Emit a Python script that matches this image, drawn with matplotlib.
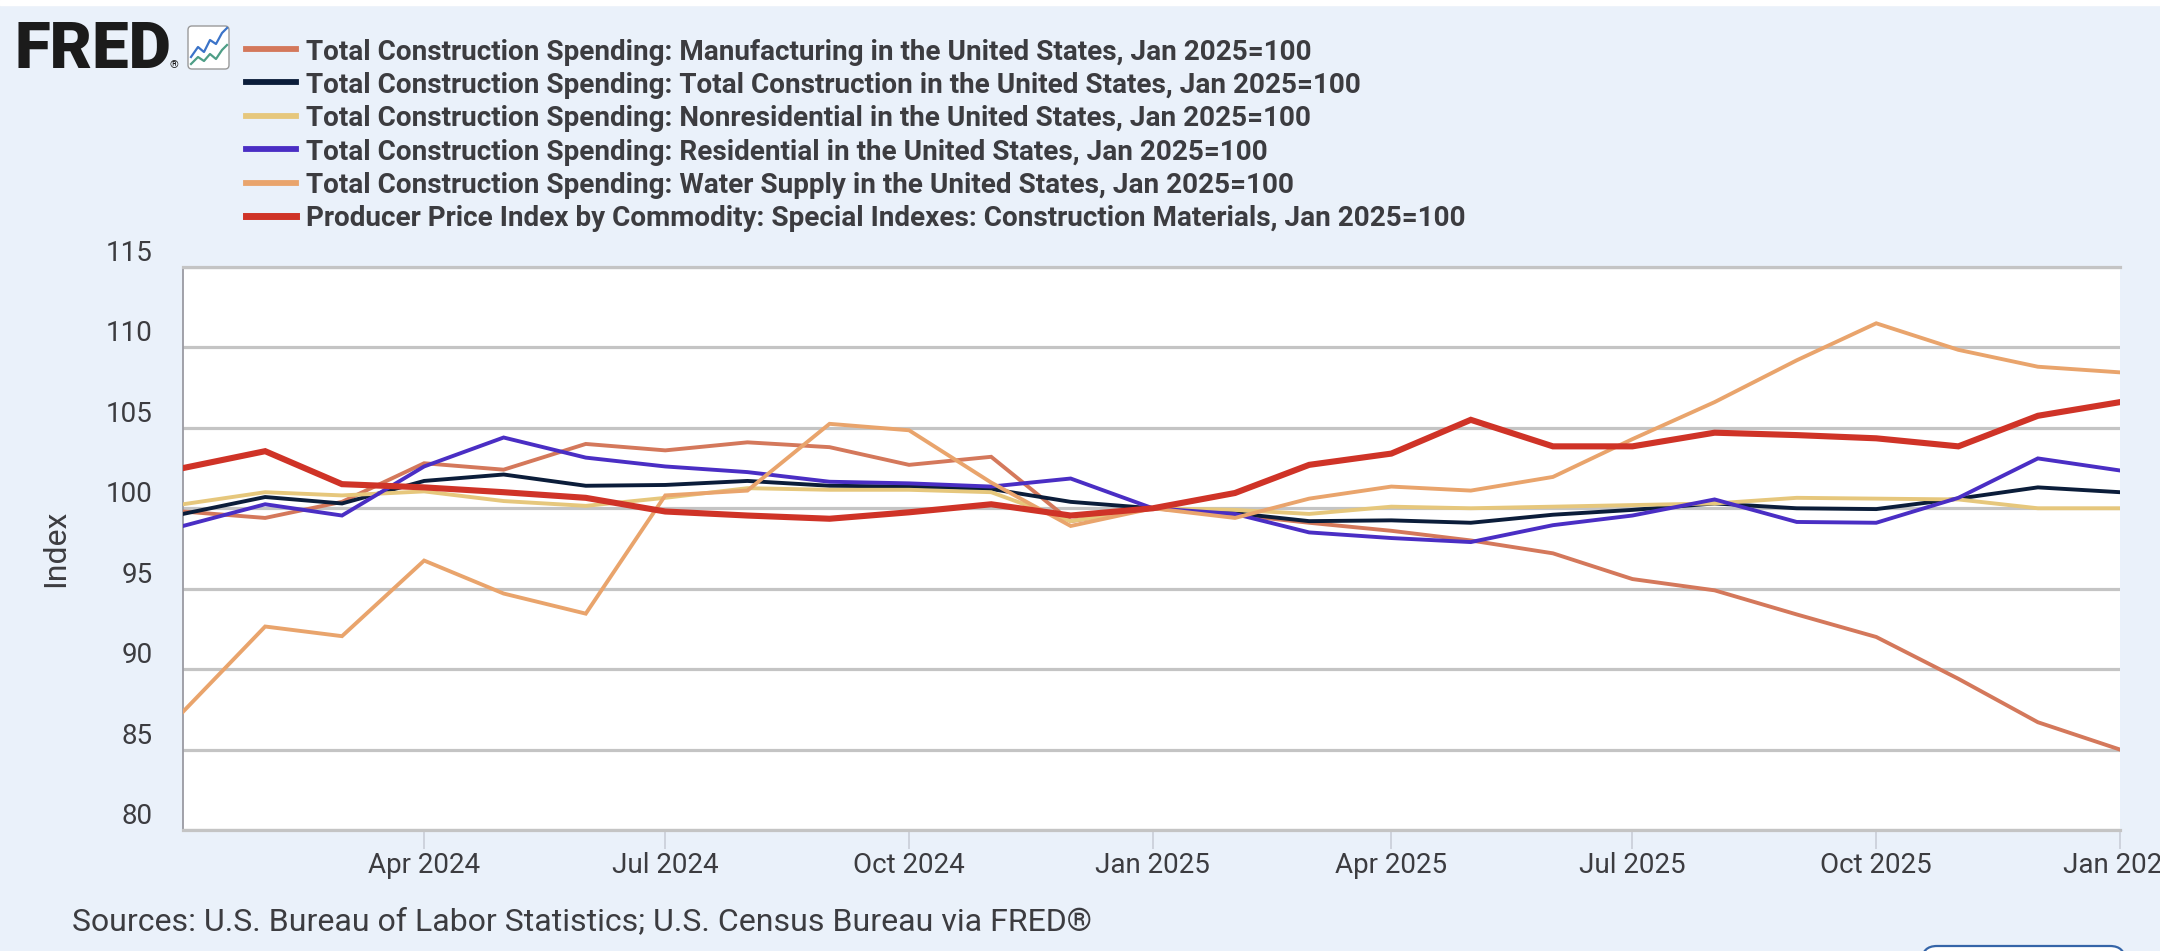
import matplotlib
matplotlib.use("Agg")
import matplotlib.pyplot as plt
import matplotlib.dates as mdates
from matplotlib.lines import Line2D
from matplotlib.patches import FancyBboxPatch, Rectangle
import pandas as pd

plt.rcParams["font.family"] = ["Roboto", "DejaVu Sans"]

# ---- data (Jan 2025 = 100) ----
months = pd.date_range("2024-01-01", "2026-01-01", freq="MS")

manufacturing = [99.8, 99.4, 100.4, 102.8, 102.4, 104.0, 103.6, 104.1, 103.8, 102.7, 103.2, 99.2,
                 100.0, 99.6, 99.1, 98.6, 98.0, 97.2, 95.6, 94.9, 93.4, 92.0, 89.4, 86.7, 85.0]
total = [99.65, 100.7, 100.3, 101.7, 102.1, 101.4, 101.45, 101.7, 101.4, 101.35, 101.2, 100.4,
         100.0, 99.7, 99.2, 99.25, 99.1, 99.6, 99.9, 100.3, 100.0, 99.95, 100.6, 101.3, 101.0]
nonresidential = [100.25, 101.0, 100.8, 101.05, 100.45, 100.15, 100.65, 101.25, 101.15, 101.15, 101.0, 99.2,
                  100.0, 99.9, 99.65, 100.1, 100.0, 100.1, 100.2, 100.3, 100.65, 100.6, 100.55, 100.0, 100.0]
residential = [98.9, 100.25, 99.55, 102.6, 104.4, 103.15, 102.6, 102.25, 101.65, 101.55, 101.35, 101.85,
               100.0, 99.65, 98.5, 98.15, 97.9, 98.95, 99.55, 100.55, 99.15, 99.1, 100.65, 103.1, 102.35]
water_supply = [87.35, 92.65, 92.05, 96.75, 94.7, 93.45, 100.8, 101.1, 105.25, 104.85, 101.6, 98.9,
                100.0, 99.4, 100.6, 101.35, 101.1, 101.95, 104.3, 106.6, 109.2, 111.5, 109.85, 108.8, 108.45]
ppi_materials = [102.5, 103.55, 101.5, 101.3, 101.0, 100.65, 99.8, 99.55, 99.35, 99.75, 100.25, 99.55,
                 100.0, 100.95, 102.7, 103.4, 105.5, 103.85, 103.85, 104.7, 104.55, 104.35, 103.85, 105.75, 106.6]

labels = [
    "Total Construction Spending: Manufacturing in the United States, Jan 2025=100",
    "Total Construction Spending: Total Construction in the United States, Jan 2025=100",
    "Total Construction Spending: Nonresidential in the United States, Jan 2025=100",
    "Total Construction Spending: Residential in the United States, Jan 2025=100",
    "Total Construction Spending: Water Supply in the United States, Jan 2025=100",
    "Producer Price Index by Commodity: Special Indexes: Construction Materials, Jan 2025=100",
]
series = [manufacturing, total, nonresidential, residential, water_supply, ppi_materials]
colors = ["#d4785b", "#0b1d3a", "#e6c77c", "#4a2ec4", "#e9a46c", "#cf3327"]
widths = [2.8, 2.8, 2.8, 2.8, 2.8, 4.4]

y_ticks = [80, 85, 90, 95, 100, 105, 110, 115]
x_ticks = pd.date_range("2024-04-01", "2026-01-01", freq="3MS")

# ---- figure layout (pixel based) ----
W, H = 2160, 951
BG = "#eaf1fa"
GRID = "#c4c4c4"
TXT = "#3c3c40"

fig = plt.figure(figsize=(W / 100, H / 100), dpi=100, facecolor=BG)
ax = fig.add_axes([183 / W, 1 - 830 / H, 1937 / W, (830 - 267) / H])
ax.set_facecolor("white")

for vals, c, lw in zip(series, colors, widths):
    ax.plot(months, vals, color=c, lw=lw, solid_joinstyle="miter", zorder=3)

ax.set_xlim(months[0], months[-1])
ax.set_ylim(80, 115)
ax.set_yticks(y_ticks)
ax.set_xticks(x_ticks)
ax.xaxis.set_major_formatter(mdates.DateFormatter("%b %Y"))
ax.grid(axis="y", color=GRID, lw=2.3, zorder=1)
ax.tick_params(axis="y", length=0, pad=22, labelsize=20, labelcolor=TXT)
ax.tick_params(axis="x", length=14, width=1.2, color="#c9ced8", pad=2, labelsize=20, labelcolor=TXT)
# FRED puts the y labels just above their grid lines
for t in ax.get_yticklabels():
    t.set_verticalalignment("bottom")

ax.spines["right"].set_visible(False)
ax.spines["top"].set_color(GRID)
ax.spines["top"].set_linewidth(2.3)
ax.spines["bottom"].set_color(GRID)
ax.spines["bottom"].set_linewidth(2.3)
ax.spines["left"].set_color("#9a9aa2")
ax.spines["left"].set_linewidth(1.3)

fig.text(56 / W, 1 - 548 / H, "Index", rotation=90, ha="center", va="center", fontsize=23, color=TXT)

# ---- legend, drawn by hand like the FRED header ----
tr = fig.dpi_scale_trans


def inch(x, y):
    return x / 100, (H - y) / 100


for i, (lab, c) in enumerate(zip(labels, colors)):
    yy = 49 + 33.4 * i
    x0, y0 = inch(246, yy)
    x1, _ = inch(296, yy)
    fig.add_artist(Line2D([x0, x1], [y0, y0], color=c, lw=4.2 if i < 5 else 5.0, transform=tr))
    tx, ty = inch(306, yy)
    fig.text(tx, ty, lab, transform=tr, ha="left", va="center_baseline",
             fontsize=20.1, fontweight="bold", color=TXT)

# ---- FRED logo ----
fig.add_artist(Rectangle(inch(0, 5), W / 100, 5 / 100, transform=tr, color="white", zorder=0))
fx, fy = inch(15, 68)
fig.text(fx, fy, "FRED", transform=tr, ha="left", va="baseline", fontsize=47,
         fontweight="black", color="#1b1b1b")
rx, ry = inch(170, 68)
fig.text(rx, ry, "®", transform=tr, ha="left", va="baseline", fontsize=8, color="#1b1b1b")
bx, by = inch(188, 69)
fig.add_artist(FancyBboxPatch((bx, by), 0.41, 0.43, boxstyle="round,pad=0,rounding_size=0.04",
                              transform=tr, facecolor="white", edgecolor="#9a9a9a", lw=1))
icon_x = [0.03, 0.10, 0.16, 0.22, 0.28, 0.34, 0.39]
icon_blue = [0.12, 0.22, 0.17, 0.29, 0.25, 0.36, 0.41]
icon_green = [0.05, 0.12, 0.08, 0.15, 0.10, 0.19, 0.24]
fig.add_artist(Line2D([bx + v for v in icon_x], [by + v for v in icon_blue], color="#3b73c8", lw=1.6, transform=tr))
fig.add_artist(Line2D([bx + v for v in icon_x], [by + v for v in icon_green], color="#4e9e86", lw=1.6, transform=tr))

# ---- source note and partly visible button ----
sx, sy = inch(72, 919)
fig.text(sx, sy, "Sources: U.S. Bureau of Labor Statistics; U.S. Census Bureau via FRED®", transform=tr,
         ha="left", va="center_baseline", fontsize=23, color=TXT)
kx, ky = inch(1922, 990)
fig.add_artist(FancyBboxPatch((kx, ky), 2.03, 0.44, boxstyle="round,pad=0,rounding_size=0.15",
                              transform=tr, facecolor="white", edgecolor="#3565a8", lw=1.6))

fig.savefig("out.png", dpi=100, facecolor=BG)
